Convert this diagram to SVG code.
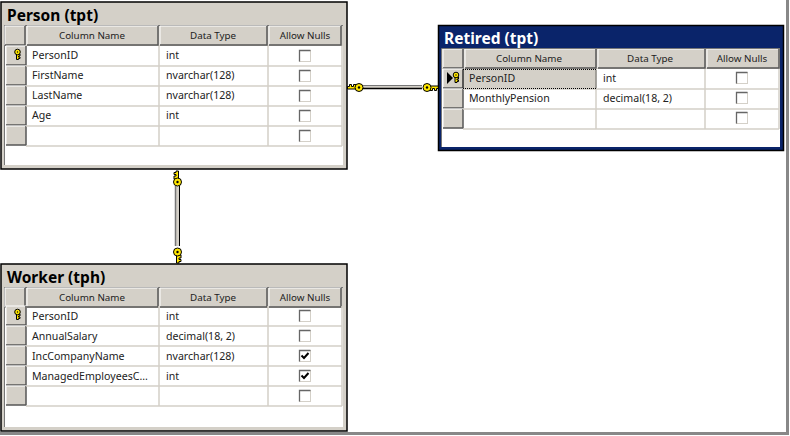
<svg xmlns="http://www.w3.org/2000/svg" width="790" height="436" viewBox="0 0 790 436">
<style>
text{font-family:"Noto Sans","Liberation Sans",sans-serif;font-size:10.6px;fill:#222}
.t{font-weight:bold;font-size:15.500px;fill:#000}
.h{text-anchor:middle;font-size:9.800px}
.frame{fill:#d4d0c8;stroke:#000;stroke-width:1.500}
.white{fill:#fff}
.grid{stroke:#d4d0c8;stroke-width:1.500;fill:none}
.edge{stroke:#777;stroke-width:1;fill:none}
.key{fill:#ffe600;stroke:#000;stroke-width:1}
</style>
<defs>
<g id="btn"><rect width="20" height="19" fill="#d4d0c8"/><path d="M0 19V0H20" fill="none" stroke="#fff"/><path d="M0 19H20V0" fill="none" stroke="#555" stroke-width="1.500"/></g>
<g id="hdr"><rect x="5" y="25" width="20" height="19" fill="#d4d0c8"/><path d="M5 44V25H25M27 44V25H158M160 44V25H267M269 44V25H341" fill="none" stroke="#fff"/><path d="M5 44H25V25M27 44H158V25M160 44H267V25M269 44H341V25" fill="none" stroke="#555" stroke-width="1.500"/></g>
<g id="cb"><rect x="0.500" y="0.500" width="11" height="11" fill="#fff" stroke="#d4d0c8"/><path d="M0.500 11.500V0.500H11.500" fill="none" stroke="#666" stroke-width="1.300"/></g>
<g id="cbc"><use href="#cb"/><path d="M2.500 5.500L5 8L9.500 3" fill="none" stroke="#000" stroke-width="2"/></g>
<g id="k"><path d="M-1 3V11H1.500V9.500H3.500V7.500H1.500V6H3.500V3Z" class="key" stroke-width="0.800"/><circle r="4" class="key"/><circle r="1.200" fill="#000"/></g>
<g id="keyh"><path d="M3 -1.500H11.500V1H9.500V3H7.500V1H5.500V3H3Z" class="key" stroke-width="0.800"/><circle r="4" class="key"/><circle r="1.200" fill="#000"/></g>
<g id="kc"><path d="M-1 2V7.500H1V6.500H2.500V5H1V4H2.500V2Z" class="key" stroke-width="0.700"/><circle r="2.800" class="key" stroke-width="0.800"/><circle r="0.700" fill="#000"/></g>
</defs>
<rect width="790" height="436" fill="#fff"/>
<path d="M787.500 0V433.500H0" fill="none" stroke="#888" stroke-width="3"/>
<g id="connectors">
<rect x="175" y="186" width="5" height="60" fill="#d4d0c8"/>
<path d="M175.500 186V246" stroke="#777" stroke-width="1.500" fill="none"/>
<path d="M179.500 186V246" stroke="#000" stroke-width="1" fill="none"/>
<use href="#k" transform="translate(177.500 182) rotate(180)"/>
<use href="#k" transform="translate(177.500 252)"/>
<rect x="362" y="85" width="60" height="3" fill="#d4d0c8"/>
<path d="M362 85.500H422" stroke="#777" fill="none"/>
<path d="M362 88.500H422" stroke="#000" stroke-width="1.500" fill="none"/>
<use href="#keyh" transform="translate(359 87.500) rotate(180)"/>
<use href="#keyh" transform="translate(427 87.500)"/>
</g>
<g id="person">
<rect x="1" y="2" width="346" height="167" class="frame"/>
<rect x="5" y="46" width="338" height="119" class="white"/>
<path class="edge" d="M4.500 165V25.500H343"/>
<use href="#hdr" transform="translate(0 1)"/>
<text class="t" x="7" y="21">Person (tpt)</text>
<text class="h" x="92" y="39">Column Name</text><text class="h" x="213" y="39">Data Type</text><text class="h" x="305" y="39">Allow Nulls</text>
<use href="#btn" x="6" y="46"/><use href="#btn" x="6" y="66"/><use href="#btn" x="6" y="86"/><use href="#btn" x="6" y="106"/><use href="#btn" x="6" y="126"/>
<path class="grid" d="M26 66H342M26 86H342M26 106H342M26 126H342M26 146H342M159 46V146M268 46V146M342 46V146"/>
<use href="#kc" transform="translate(17.500 52)"/>
<text x="32" y="59">PersonID</text><text x="166" y="59">int</text>
<text x="32" y="79">FirstName</text><text x="166" y="79">nvarchar(128)</text>
<text x="32" y="99">LastName</text><text x="166" y="99">nvarchar(128)</text>
<text x="32" y="119">Age</text><text x="166" y="119">int</text>
<use href="#cb" x="299" y="50"/><use href="#cb" x="299" y="70"/><use href="#cb" x="299" y="90"/><use href="#cb" x="299" y="110"/><use href="#cb" x="299" y="130"/>
</g>
<g id="retired">
<rect x="438.500" y="25.500" width="345" height="125" fill="#0a246a" stroke="#000" stroke-width="1.500"/>
<rect x="442" y="48" width="338" height="99" class="white"/>
<rect x="442" y="48" width="338" height="21" fill="#d4d0c8"/>
<use href="#hdr" transform="translate(438 24)"/>
<path class="edge" d="M441.500 147V48.500H780"/>
<text class="t" x="444" y="44" style="fill:#fff">Retired (tpt)</text>
<text class="h" x="529" y="62">Column Name</text><text class="h" x="650" y="62">Data Type</text><text class="h" x="742" y="62">Allow Nulls</text>
<rect x="463" y="69" width="133" height="20" fill="#d4d0c8"/>
<use href="#btn" x="443" y="69"/><use href="#btn" x="443" y="89"/><use href="#btn" x="443" y="109"/>
<path class="grid" d="M463 89H779M463 109H779M463 129H779M596 69V129M705 69V129M779 69V129"/>
<path d="M463 69.500H596V88.500H463Z" fill="none" stroke="#000" stroke-dasharray="1 1"/>
<path d="M447 72V84L453 78Z" fill="#000"/>
<use href="#kc" transform="translate(456 75)"/>
<text x="469" y="82">PersonID</text><text x="603" y="82">int</text>
<text x="469" y="102">MonthlyPension</text><text x="603" y="102">decimal(18, 2)</text>
<use href="#cb" x="736" y="72"/><use href="#cb" x="736" y="92"/><use href="#cb" x="736" y="112"/>
</g>
<g id="worker">
<rect x="1" y="264" width="346" height="167" class="frame"/>
<rect x="5" y="308" width="338" height="119" class="white"/>
<path class="edge" d="M4.500 427V287.500H343"/>
<use href="#hdr" transform="translate(0 263)"/>
<text class="t" x="7" y="283">Worker (tph)</text>
<text class="h" x="92" y="301">Column Name</text><text class="h" x="213" y="301">Data Type</text><text class="h" x="305" y="301">Allow Nulls</text>
<use href="#btn" x="6" y="306"/><use href="#btn" x="6" y="326"/><use href="#btn" x="6" y="346"/><use href="#btn" x="6" y="366"/><use href="#btn" x="6" y="386"/>
<path class="grid" d="M26 326H342M26 346H342M26 366H342M26 386H342M26 406H342M159 306V406M268 306V406M342 306V406"/>
<use href="#kc" transform="translate(17.500 312)"/>
<text x="32" y="320">PersonID</text><text x="166" y="320">int</text>
<text x="32" y="340">AnnualSalary</text><text x="166" y="340">decimal(18, 2)</text>
<text x="32" y="360">IncCompanyName</text><text x="166" y="360">nvarchar(128)</text>
<text x="32" y="380">ManagedEmployeesC...</text><text x="166" y="380">int</text>
<use href="#cb" x="299" y="310"/><use href="#cb" x="299" y="330"/><use href="#cbc" x="299" y="350"/><use href="#cbc" x="299" y="370"/><use href="#cb" x="299" y="390"/>
</g>
</svg>
